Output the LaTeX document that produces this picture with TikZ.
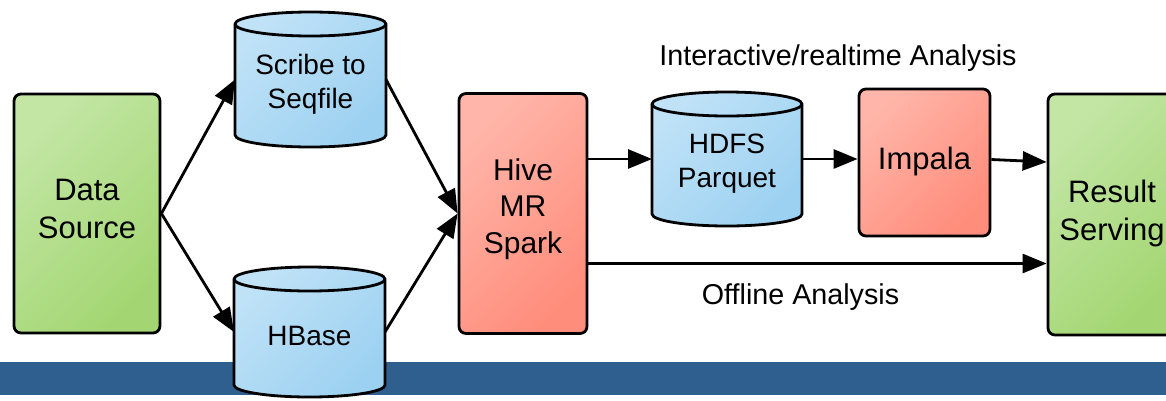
\documentclass[tikz,border=0pt]{standalone}
\usepackage{fontspec}
\setmainfont{Liberation Sans}
\usetikzlibrary{arrows.meta,calc}
\definecolor{grnA}{HTML}{C3E6A5}
\definecolor{grnB}{HTML}{A3D672}
\definecolor{redA}{HTML}{FFB5A9}
\definecolor{redB}{HTML}{FF8D7C}
\definecolor{bluA}{HTML}{BFE2F7}
\definecolor{bluB}{HTML}{9DD1F1}
\definecolor{bandblue}{HTML}{2F5F8F}
\newcommand\dbcyl[5]{%
  \path[cylfill] (#1,#3+12) -- (#1,#4-12)
     arc[start angle=180,end angle=360,x radius=#5pt,y radius=12pt]
     -- (#2,#3+12)
     arc[start angle=0,end angle=180,x radius=#5pt,y radius=12pt] -- cycle;
  \draw[line width=2.8pt] (#1,#3+12)
     arc[start angle=180,end angle=360,x radius=#5pt,y radius=12pt];}
\begin{document}
\begin{tikzpicture}[x=1pt,y=-1pt,line join=round,
  box/.style={draw=black,line width=2.8pt,rounded corners=7pt,inner sep=0pt},
  greenbox/.style={box,top color=grnA,bottom color=grnB,shading angle=45},
  redbox/.style={box,top color=redA,bottom color=redB,shading angle=45},
  cylfill/.style={draw=black,line width=2.8pt,top color=bluA,bottom color=bluB,shading angle=45},
  anchorbox/.style={inner sep=0pt,outer sep=0pt},
  big/.style={font=\fontsize{31}{38}\selectfont,align=center,inner sep=0pt},
  hivetxt/.style={font=\fontsize{30}{36.5}\selectfont,align=center,inner sep=0pt},
  mid/.style={font=\fontsize{28}{34}\selectfont,align=center,inner sep=0pt},
  lbl/.style={font=\fontsize{28.7}{34}\selectfont,inner sep=0pt,anchor=base},
  conn/.style={line width=2.8pt,-{Triangle[length=24pt,width=19pt]}}]
\useasboundingbox (0,0) rectangle (1166,400);
\clip (0,0) rectangle (1166,400);
\fill[white] (0,0) rectangle (1166,400);
\fill[bandblue] (0,362) rectangle (1166,395);

% boxes
\node[greenbox,minimum width=146pt,minimum height=239pt] (ds) at (87,213.5) {};
\node[big] (dst) at (87,209) {Data\\Source};
\node[redbox,minimum width=128pt,minimum height=240pt] (hive) at (523,213.5) {};
\node[hivetxt] (hivet) at (523,209) {Hive\\MR\\Spark};
\node[redbox,minimum width=131pt,minimum height=147pt] (impala) at (924.5,162.5) {};
\node[big,anchor=base] (impalat) at (924.5,169) {Impala};
\node[greenbox,minimum width=128pt,minimum height=241pt] (result) at (1112,214.5) {};
\node[big] (resultt) at (1112,213) {Result\\Serving};

% cylinders
\dbcyl{235}{386}{12}{147}{75.5}
\node[anchorbox,minimum width=151pt,minimum height=135pt] (scribe) at (310.5,79.5) {};
\node[mid] (scribet) at (310.5,84) {Scribe to\\Seqfile};
\dbcyl{234}{385}{267}{397}{75.5}
\node[anchorbox,minimum width=151pt,minimum height=130pt] (hbase) at (309.5,332) {};
\node[mid,anchor=base] (hbaset) at (309.5,345) {HBase};
\dbcyl{652}{802}{92}{226}{75}
\node[anchorbox,minimum width=150pt,minimum height=134pt] (hdfs) at (727,159) {};
\node[mid] (hdfst) at (727,164) {HDFS\\Parquet};

% labels
\node[lbl] (interl) at (838,65) {Interactive/realtime Analysis};
\node[lbl] (offl) at (800.5,304) {Offline Analysis};

% connectors
\draw[conn] (ds.east) -- (scribe.west);
\draw[conn] (ds.east) -- (hbase.west);
\draw[conn] (scribe.east) -- (hive.west);
\draw[conn] (hbase.east) -- (hive.west);
\draw[conn] (hive.east |- hdfs.west) -- (hdfs.west);
\draw[conn] (hdfs.east) -- (hdfs.east -| impala.west);
\draw[conn] ([yshift=3pt]impala.east) -- ([yshift=52.5pt]result.west);
\draw[conn] ([yshift=-50pt]hive.east) -- ([yshift=-50pt]hive.east -| result.west);
\end{tikzpicture}
\end{document}
